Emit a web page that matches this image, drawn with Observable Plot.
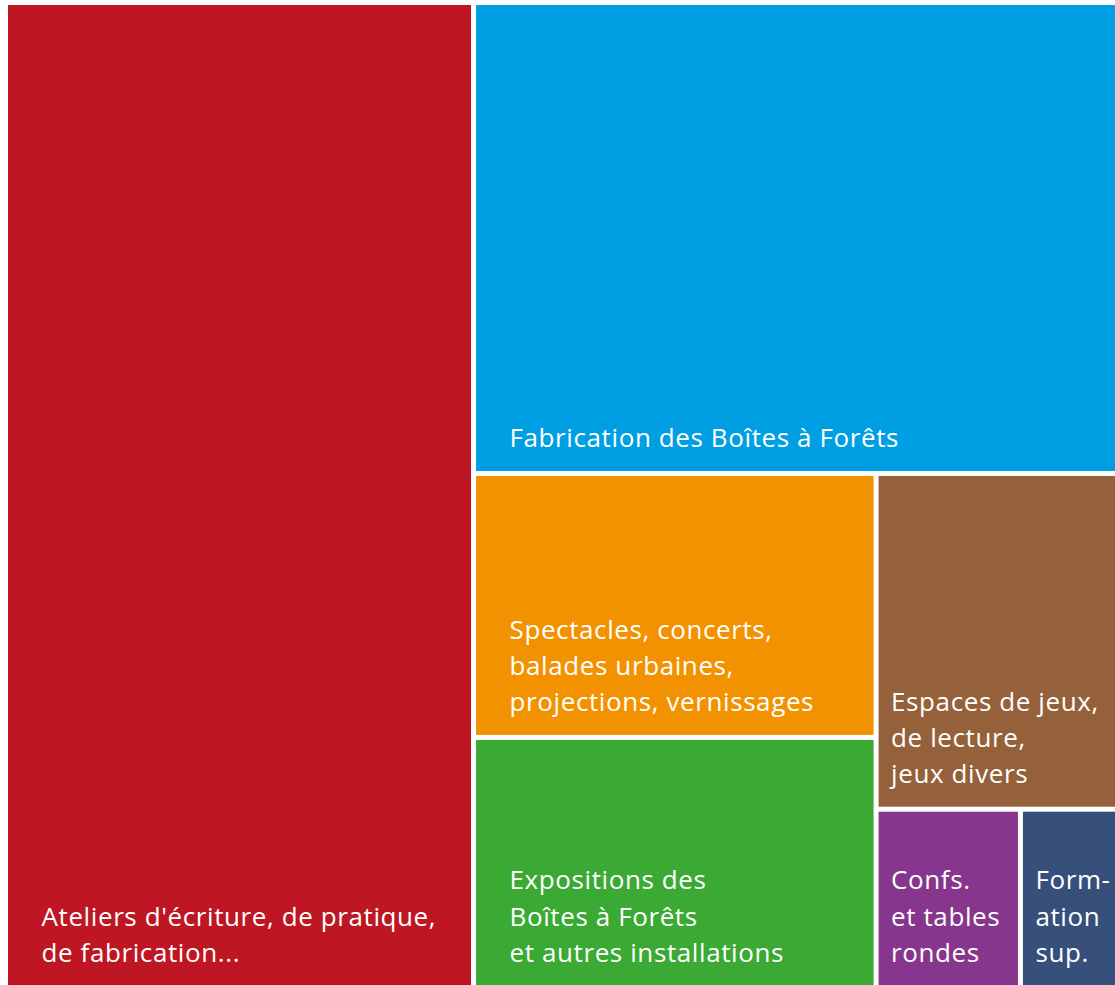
<!DOCTYPE html>
<html>
<head>
<meta charset="utf-8">
<script src="https://cdn.jsdelivr.net/npm/d3@7"></script>
<script src="https://cdn.jsdelivr.net/npm/@observablehq/plot@0.6"></script>
<style>
  html, body { margin: 0; padding: 0; background: #fff; }
  #chart svg { display: block; }
</style>
</head>
<body>
<div id="chart"></div>
<script>
// Categories, shares (percent of activities) and colours
const categories = [
  "Ateliers d'écriture, de pratique,\nde fabrication...",
  "Fabrication des Boîtes à Forêts",
  "Spectacles, concerts,\nbalades urbaines,\nprojections, vernissages",
  "Expositions des\nBoîtes à Forêts\net autres installations",
  "Espaces de jeux,\nde lecture,\njeux divers",
  "Confs.\net tables\nrondes",
  "Form-\nation\nsup."
];
const values = [42.09, 27.69, 9.70, 9.19, 7.40, 2.35, 1.58];
const colors = ["#BE1622", "#009FE3", "#F39200", "#3AAA35", "#95613A", "#86368D", "#364F7B"];

const W = 1115, H = 985;
const mLeft = 8, mTop = 5;
const dx = W - mLeft, dy = H - mTop;

const root = d3.hierarchy({children: categories.map((c, i) => ({name: c, value: values[i], color: colors[i]}))})
  .sum(d => d.value || 0)
  .sort((a, b) => b.value - a.value);
d3.treemap().tile(d3.treemapBinary).size([dx, dy]).paddingInner(5)(root);

const cells = root.leaves().map(n => ({
  name: n.data.name, color: n.data.color,
  x0: n.x0, x1: n.x1, y0: n.y0, y1: n.y1,
  inset: (n.x1 - n.x0) > 300 ? 33 : 12
}));

const chart = Plot.plot({
  width: W, height: H,
  marginLeft: 0, marginRight: 0, marginTop: 0, marginBottom: 0,
  x: {domain: [0, dx], range: [mLeft, W], axis: null},
  y: {domain: [0, dy], range: [mTop, H], axis: null},
  style: {fontFamily: "'Open Sans', Roboto, sans-serif", background: "#fff", letterSpacing: "0.6px"},
  marks: [
    Plot.rect(cells, {x1: "x0", x2: "x1", y1: "y0", y2: "y1", fill: "color"}),
    Plot.text(cells, {
      x: d => d.x0 + d.inset, y: d => d.y1 - 24,
      text: "name", textAnchor: "start", lineAnchor: "bottom",
      lineHeight: 1.385, fontSize: 26, fill: "#fff", fontWeight: 400
    })
  ]
});
document.getElementById("chart").appendChild(chart);
</script>
</body>
</html>
